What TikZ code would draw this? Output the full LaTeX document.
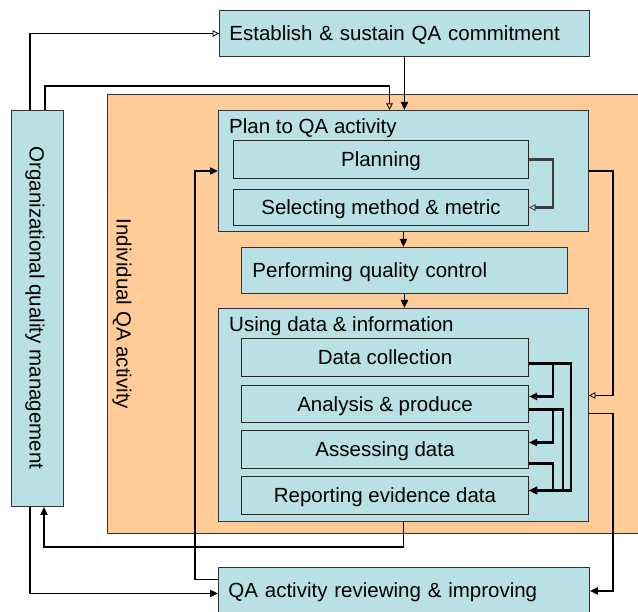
\documentclass[tikz,border=0pt]{standalone}
\usepackage{fontspec}
\setmainfont{Liberation Sans}
\usetikzlibrary{arrows.meta}
\definecolor{boxblue}{RGB}{185,224,228}
\definecolor{boxorange}{RGB}{255,204,153}
\begin{document}
\begin{tikzpicture}[x=1pt,y=-1pt,
  every node/.style={font=\fontsize{20.5}{24}\selectfont},
  capcenter/.style={text height=14.7pt,text depth=0pt},
  bluebox/.style={draw=black!80,line width=0.9pt,fill=boxblue,inner sep=0pt,anchor=north west,capcenter},
  leftbox/.style={bluebox,align=left,inner xsep=10pt},
  innerbox/.style={bluebox,draw=black!85,line width=1pt},
  orangebox/.style={draw=black!80,line width=0.9pt,fill=boxorange,inner sep=0pt,anchor=north west},
  conn/.style={line width=1.8pt,line join=miter},
  farrow/.style={conn,-{Triangle[length=8pt,width=7pt]}},
  oarrow/.style={conn,-{Triangle[open,length=6.5pt,width=6.5pt,line width=0.8pt]}},
  iarrow/.style={line width=2.2pt,-{Triangle[length=8pt,width=7pt]}},
  ioarrow/.style={line width=2.3pt,draw=black!75,-{Triangle[open,length=6.5pt,width=6.5pt,line width=0.8pt]}},
]
\useasboundingbox (0,0) rectangle (638,612);
\fill[white] (0,0) rectangle (638,612);

% orange container
\node[orangebox,minimum width=540pt,minimum height=439pt] (indiv) at (107,94) {};
\node[rotate=-90,capcenter] (indivlabel) at (124,314) {Individual QA activity};

% left column
\node[bluebox,minimum width=52pt,minimum height=396pt] (org) at (11,110) {};
\node[rotate=-90,capcenter] (orglabel) at (37,308) {Organizational quality management};

% top box
\node[leftbox,text width=350pt,minimum height=46pt] (est) at (219,10) {Establish \& sustain QA commitment};

% plan box
\node[bluebox,minimum width=370pt,minimum height=121pt] (plan) at (218,110) {};
\node[anchor=base west,inner sep=0pt] (plantitle) at (229,134) {Plan to QA activity};
\node[innerbox,minimum width=295pt,minimum height=38pt] (planning) at (233,140) {Planning};
\node[innerbox,minimum width=295pt,minimum height=36pt] (select) at (233,189) {Selecting method \& metric};

% performing
\node[leftbox,inner xsep=11pt,text width=304pt,minimum height=46pt] (perf) at (241,247) {Performing quality control};

% using box
\node[bluebox,minimum width=370pt,minimum height=213pt] (using) at (218,308) {};
\node[anchor=base west,inner sep=0pt] (usingtitle) at (229,332) {Using data \& information};
\node[innerbox,minimum width=287pt,minimum height=38pt] (datac) at (241,338) {Data collection};
\node[innerbox,minimum width=287pt,minimum height=37pt] (anal) at (241,385) {Analysis \& produce};
\node[innerbox,minimum width=287pt,minimum height=38pt] (assess) at (241,430) {Assessing data};
\node[innerbox,minimum width=287pt,minimum height=38pt] (rep) at (241,476) {Reporting evidence data};

% review box
\node[leftbox,text width=351pt,minimum height=46pt] (qa) at (218,567) {QA activity reviewing \& improving};

% connectors
\draw[oarrow] ([xshift=19pt]org.north west) |- (est.west);
\draw[oarrow] ([xshift=34pt]org.north west) -- ++(0,-24) -| ([xshift=-14pt]plan.north);
\draw[farrow] (est.south) -- (est.south |- plan.north);
\draw[ioarrow] (planning.east) -- ++(24,0) |- (select.east);
\draw[farrow] (plan.south) -- (plan.south |- perf.north);
\draw[farrow] (perf.south) -- (perf.south |- using.north);
\draw[oarrow] (plan.east) -- ++(24,0) |- ([yshift=19.5pt]using.east);
\draw[farrow] ([yshift=1.5pt]using.east) -- ++(24,0) |- ([yshift=-0.5pt]qa.east);
\draw[farrow] (using.south) -- ++(0,25) -| ([xshift=33pt]org.south west);
\draw[farrow] ([yshift=11pt]qa.west) -- ++(-23,0) |- (plan.west);
\draw[farrow] ([xshift=19pt]org.south west) |- ([yshift=-3pt]qa.west);

% inner data connectors
\draw[iarrow] ([yshift=-6pt]datac.east) -- ++(24,0) |- ([yshift=7.5pt]anal.east);
\draw[iarrow] ([yshift=-6pt]datac.east) -- ++(42,0) |- ([yshift=5pt]rep.east);
\draw[iarrow] ([yshift=-5.5pt]anal.east) -- ++(24,0) |- ([yshift=7pt]assess.east);
\draw[iarrow] ([yshift=-5.5pt]anal.east) -- ++(34,0) |- ([yshift=5pt]rep.east);
\draw[iarrow] ([yshift=-14pt]assess.east) -- ++(24,0) |- ([yshift=5pt]rep.east);
\end{tikzpicture}
\end{document}
